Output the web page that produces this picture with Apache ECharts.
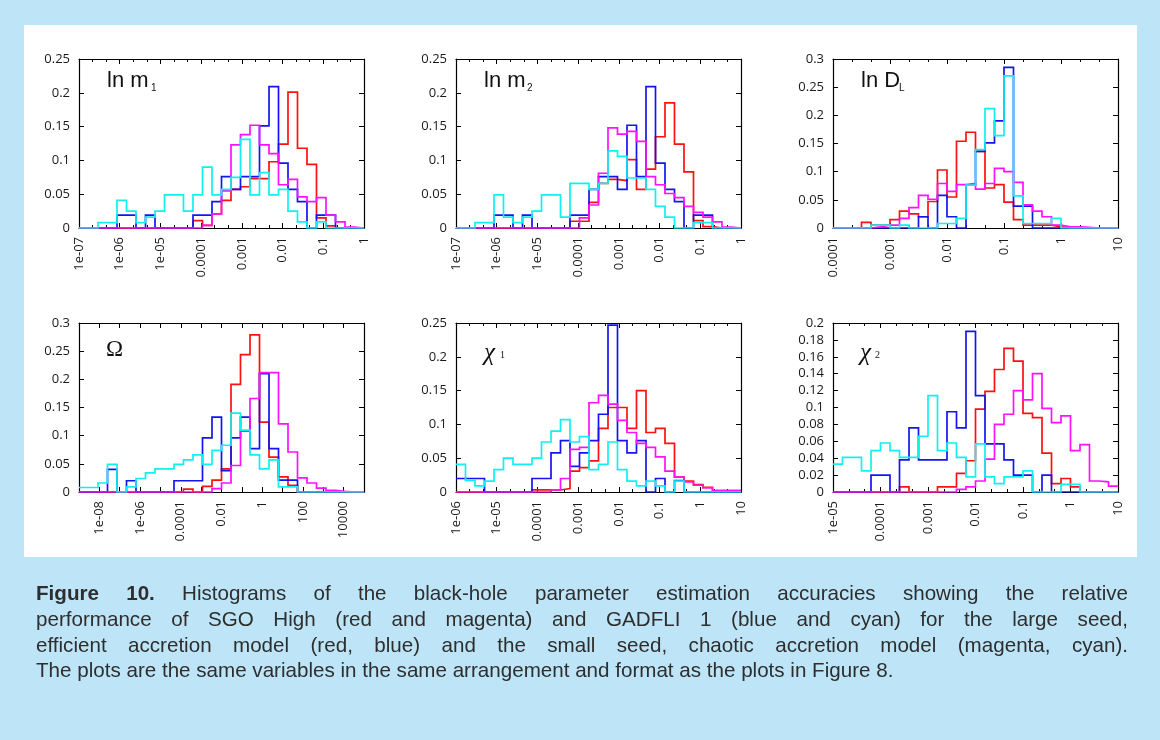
<!DOCTYPE html>
<html>
<head>
<meta charset="utf-8">
<script src="https://cdn.jsdelivr.net/npm/echarts@6/dist/echarts.min.js"></script>
<style>
  html, body { margin: 0; padding: 0; background: #bee5f7; }
  #chart { position: absolute; left: 0; top: 0; width: 1160px; height: 740px; }
  #caption {
    position: absolute; left: 36px; top: 580px; width: 1092px;
    font-family: "Liberation Sans", Arial, sans-serif; font-size: 20.6px;
    line-height: 25.8px; color: #2e2e2e;
  }
  #caption .j { text-align: justify; text-align-last: justify; white-space: nowrap; }
  #caption .l { white-space: nowrap; }
</style>
</head>
<body>
<div id="chart"></div>
<div id="caption">
  <div class="j"><b>Figure 10.</b> Histograms of the black-hole parameter estimation accuracies showing the relative</div>
  <div class="j">performance of SGO High (red and magenta) and GADFLI 1 (blue and cyan) for the large seed,</div>
  <div class="j">efficient accretion model (red, blue) and the small seed, chaotic accretion model (magenta, cyan).</div>
  <div class="l">The plots are the same variables in the same arrangement and format as the plots in Figure 8.</div>
</div>
<script>
// Histogram fractions per bin; every panel uses 30 bins spread evenly (in log10)
// over the plotted range of its x axis.
const BIN_COUNT = 30;

// x ranges as log10 exponents [low, high]
const lnM1Range = [-7, 0];
const lnM2Range = [-7, 0];
const lnDLRange = [-4, 1];
const omegaRange = [-9, 5];
const chi1Range = [-6, 1];
const chi2Range = [-5, 1];

// tick labels, one per decade starting at the range low end
const lnMTickLabels = ['1e-07', '1e-06', '1e-05', '0.0001', '0.001', '0.01', '0.1', '1'];
const lnDLTickLabels = ['0.0001', '0.001', '0.01', '0.1', '1', '10'];
const omegaTickLabels = ['', '1e-08', '', '1e-06', '', '0.0001', '', '0.01', '', '1', '', '100', '', '10000', ''];
const chi1TickLabels = ['1e-06', '1e-05', '0.0001', '0.001', '0.01', '0.1', '1', '10'];
const chi2TickLabels = ['1e-05', '0.0001', '0.001', '0.01', '0.1', '1', '10'];

// ln m1
const lnM1Red     = [0,0,0,0,0,0,0,0,0,0,0,0,0.011,0.004,0.021,0.041,0.057,0.061,0.073,0.073,0.098,0.124,0.201,0.118,0.094,0.015,0.003,0,0,0];
const lnM1Blue    = [0,0,0,0,0.019,0.019,0,0.019,0,0,0,0,0.019,0.019,0.039,0.076,0.057,0.076,0.076,0.151,0.209,0.096,0.057,0.039,0,0.019,0.019,0,0,0];
const lnM1Magenta = [0,0,0,0,0,0,0,0,0,0,0,0,0,0.004,0.021,0.055,0.123,0.138,0.152,0.123,0.11,0.064,0.072,0.046,0.039,0.045,0.019,0.009,0.0015,0];
const lnM1Cyan    = [0,0,0.008,0.008,0.041,0.025,0.008,0.016,0.025,0.049,0.049,0.025,0.049,0.09,0.049,0.057,0.075,0.131,0.049,0.082,0.049,0.057,0.025,0.009,0,0.009,0,0,0,0];

// ln m2
const lnM2Red     = [0,0,0,0,0,0,0,0,0,0,0,0,0.01,0.01,0.038,0.066,0.072,0.07,0.101,0.057,0.087,0.135,0.185,0.124,0.083,0.011,0.002,0,0,0];
const lnM2Blue    = [0,0,0,0,0.019,0.019,0,0.019,0,0,0,0,0.019,0.019,0.057,0.076,0.076,0.057,0.152,0.076,0.209,0.096,0.057,0.039,0,0.019,0.019,0,0,0];
const lnM2Magenta = [0,0,0,0,0,0,0,0,0,0,0,0,0,0.015,0.034,0.081,0.148,0.139,0.143,0.128,0.076,0.064,0.051,0.045,0.032,0.023,0.016,0.009,0.0015,0];
const lnM2Cyan    = [0,0,0.008,0.008,0.049,0.016,0.008,0.016,0.025,0.049,0.049,0.016,0.066,0.066,0.057,0.066,0.114,0.106,0.074,0.074,0.057,0.032,0.016,0,0,0.008,0.008,0,0,0];

// ln DL
const lnDLRed     = [0,0,0,0.01,0.005,0.005,0.015,0.03,0.025,0.02,0.047,0.103,0.055,0.154,0.17,0.136,0.071,0.077,0.046,0.015,0.005,0.005,0.005,0.002,0,0,0,0,0,0];
const lnDLBlue    = [0,0,0,0,0,0,0,0,0,0.02,0,0.058,0.02,0,0.076,0.136,0.151,0.19,0.285,0.039,0.039,0,0,0,0,0,0,0,0,0];
const lnDLMagenta = [0,0,0,0,0.002,0.005,0.005,0.017,0.036,0.058,0.051,0.079,0.065,0.077,0.079,0.069,0.079,0.106,0.1,0.081,0.041,0.03,0.02,0.005,0.002,0.002,0.001,0,0,0];
const lnDLCyan    = [0,0,0,0,0.005,0.005,0,0.005,0,0,0,0.008,0.008,0.017,0.076,0.139,0.212,0.164,0.27,0.057,0.008,0.008,0.008,0.017,0,0,0,0,0,0];

// Omega
const omegaRed     = [0,0,0,0,0,0,0,0,0,0,0,0.005,0,0.01,0.021,0.041,0.191,0.244,0.279,0.124,0.062,0.027,0.012,0,0,0,0,0,0,0];
const omegaBlue    = [0,0,0,0.04,0,0.02,0,0,0,0,0.02,0.02,0.02,0.096,0.133,0.038,0.096,0.133,0.077,0.21,0.077,0.021,0.021,0,0,0,0,0,0,0];
const omegaMagenta = [0,0,0,0,0,0,0,0,0,0,0,0,0,0,0.006,0.016,0.047,0.108,0.166,0.212,0.212,0.121,0.071,0.025,0.016,0.007,0.003,0.001,0,0];
const omegaCyan    = [0.008,0.008,0.016,0.049,0,0.009,0.024,0.034,0.041,0.041,0.049,0.057,0.066,0.049,0.074,0.083,0.14,0.11,0.066,0.041,0.057,0.009,0.009,0,0,0,0,0,0,0];

// chi1
const chi1Red     = [0,0,0,0,0,0,0,0,0.003,0.003,0.003,0.005,0.031,0.036,0.046,0.094,0.125,0.125,0.094,0.15,0.088,0.094,0.072,0.022,0.016,0.011,0.007,0.002,0.002,0.002];
const chi1Blue    = [0.02,0.02,0.02,0,0,0,0,0,0.02,0.02,0.058,0.076,0.038,0.058,0.076,0.115,0.247,0.076,0.058,0.076,0,0.02,0,0.017,0,0,0,0,0,0];
const chi1Magenta = [0,0,0,0,0,0,0,0,0,0,0.003,0.02,0.063,0.066,0.132,0.143,0.13,0.106,0.088,0.072,0.066,0.052,0.031,0.022,0.015,0.01,0.006,0.002,0.002,0.002];
const chi1Cyan    = [0.041,0.017,0.009,0.016,0.033,0.05,0.041,0.041,0.05,0.074,0.09,0.107,0.074,0.082,0.033,0.041,0.074,0.033,0.016,0.009,0.016,0.009,0,0.016,0,0,0,0,0,0];

// chi2
const chi2Red     = [0,0,0,0,0,0,0,0.006,0,0,0,0.006,0.006,0.022,0.037,0.098,0.119,0.145,0.17,0.155,0.093,0.088,0.046,0.01,0.016,0.006,0,0,0,0];
const chi2Blue    = [0,0,0,0,0.02,0.02,0,0.038,0.076,0.038,0.038,0.038,0.095,0.076,0.19,0.114,0.057,0.057,0.038,0.02,0.02,0,0.02,0,0,0,0,0,0,0];
const chi2Magenta = [0,0,0,0,0,0,0,0,0,0,0,0,0,0.003,0.006,0.013,0.039,0.08,0.092,0.12,0.109,0.14,0.099,0.082,0.09,0.049,0.056,0.013,0.012,0.007];
const chi2Cyan    = [0.033,0.041,0.041,0.025,0.049,0.058,0.049,0.041,0.041,0.066,0.114,0.049,0.058,0.041,0.018,0.057,0.018,0.01,0.018,0.018,0.025,0,0,0,0.009,0.009,0,0,0,0];

const panels = [
  { range: lnM1Range, ticks: lnMTickLabels, yMax: 0.25, yStep: 0.05, minor: true,
    series: [lnM1Red, lnM1Blue, lnM1Magenta, lnM1Cyan] },
  { range: lnM2Range, ticks: lnMTickLabels, yMax: 0.25, yStep: 0.05, minor: true,
    series: [lnM2Red, lnM2Blue, lnM2Magenta, lnM2Cyan] },
  { range: lnDLRange, ticks: lnDLTickLabels, yMax: 0.3, yStep: 0.05, minor: true,
    series: [lnDLRed, lnDLBlue, lnDLMagenta, lnDLCyan] },
  { range: omegaRange, ticks: omegaTickLabels, yMax: 0.3, yStep: 0.05, minor: false,
    series: [omegaRed, omegaBlue, omegaMagenta, omegaCyan] },
  { range: chi1Range, ticks: chi1TickLabels, yMax: 0.25, yStep: 0.05, minor: true,
    series: [chi1Red, chi1Blue, chi1Magenta, chi1Cyan] },
  { range: chi2Range, ticks: chi2TickLabels, yMax: 0.2, yStep: 0.02, minor: true,
    series: [chi2Red, chi2Blue, chi2Magenta, chi2Cyan] }
];

const seriesColors = ['#ff1010', '#1414f0', '#ff10ff', '#10f0f0'];

// plot boxes in pixels
const boxes = [
  { left: 79, top: 59, width: 285, height: 169 },
  { left: 456, top: 59, width: 285, height: 169 },
  { left: 833, top: 59, width: 285, height: 169 },
  { left: 79, top: 323, width: 285, height: 169 },
  { left: 456, top: 323, width: 285, height: 169 },
  { left: 833, top: 323, width: 285, height: 169 }
];

const tickFont = { fontFamily: 'Open Sans', fontSize: 13, color: '#1a1a1a' };
const axisLine = { show: true, onZero: false, lineStyle: { color: '#000', width: 1.2 } };

const grid = [], xAxis = [], yAxis = [], series = [];

panels.forEach((p, i) => {
  const [lo, hi] = p.range;
  grid.push(Object.assign({ containLabel: false }, boxes[i]));
  const minorTick = { show: p.minor, splitNumber: 3, length: 3, lineStyle: { color: '#000', width: 1 } };
  const axisTick = { show: true, inside: true, length: 5, lineStyle: { color: '#000', width: 1 } };
  const xBase = { type: 'value', gridIndex: i, min: lo, max: hi, interval: 1,
    axisLine, axisTick, minorTick, splitLine: { show: false } };
  xAxis.push(Object.assign({}, xBase, {
    position: 'bottom',
    axisLabel: Object.assign({ rotate: 90, margin: 9,
      formatter: v => p.ticks[Math.round(v - lo)] || '' }, tickFont)
  }));
  xAxis.push(Object.assign({}, xBase, { position: 'top', axisLabel: { show: false } }));
  const yBase = { type: 'value', gridIndex: i, min: 0, max: p.yMax, interval: p.yStep,
    axisLine, axisTick, splitLine: { show: false } };
  yAxis.push(Object.assign({}, yBase, {
    position: 'left',
    axisLabel: Object.assign({ margin: 9, formatter: v => String(+v.toFixed(3)) }, tickFont)
  }));
  yAxis.push(Object.assign({}, yBase, { position: 'right', axisLabel: { show: false } }));

  const w = (hi - lo) / BIN_COUNT;
  p.series.forEach((vals, s) => {
    const pts = vals.map((v, k) => [lo + k * w, v]);
    pts.push([hi, vals[vals.length - 1]]);
    series.push({
      type: 'line', step: 'end', xAxisIndex: 2 * i, yAxisIndex: 2 * i,
      data: pts, symbol: 'none', silent: true,
      lineStyle: { color: seriesColors[s], width: 1.7, join: 'miter' },
      z: 2 + s
    });
  });
});

// panel names
const sans = 'Liberation Sans';
const serif = 'Liberation Serif';
function label(x, y, text, size, family, style) {
  return { type: 'text', x, y, silent: true, z: 100,
    style: { text, fontSize: size, fontFamily: family, fontStyle: style || 'normal',
      fill: '#111', verticalAlign: 'top' } };
}
const graphic = [
  { type: 'rect', shape: { x: 24, y: 25, width: 1113, height: 532 }, style: { fill: '#ffffff' }, z: -10 },
  label(107, 70, 'ln m', 22, sans), label(151, 83, '1', 10, sans),
  label(484, 70, 'ln m', 22, sans), label(527, 83, '2', 10, sans),
  label(861, 70, 'ln D', 22, sans), label(899, 83, 'L', 10, sans),
  label(106, 338, 'Ω', 23, serif),
  label(484, 341, 'χ', 25, serif, 'italic'), label(500, 350, '1', 10, serif),
  label(860, 341, 'χ', 25, serif, 'italic'), label(875, 350, '2', 10, serif)
];

const chart = echarts.init(document.getElementById('chart'), null, { renderer: 'canvas' });
chart.setOption({
  animation: false,
  backgroundColor: 'transparent',
  grid, xAxis, yAxis, series, graphic
});
</script>
</body>
</html>
